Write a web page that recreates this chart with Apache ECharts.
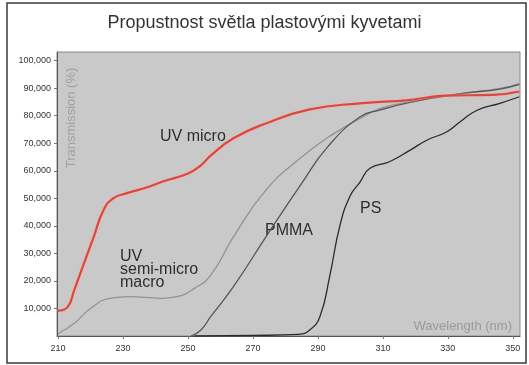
<!DOCTYPE html>
<html>
<head>
<meta charset="utf-8">
<script src="https://cdn.jsdelivr.net/npm/echarts@6/dist/echarts.min.js"></script>
<style>
  html, body { margin: 0; padding: 0; background: #ffffff; }
  #chart { width: 529px; height: 365px; }
</style>
</head>
<body>
<div id="chart"></div>
<script>
// Axis ticks
const xTicks = [210, 230, 250, 270, 290, 310, 330, 350];
const yTicks = [10, 20, 30, 40, 50, 60, 70, 80, 90, 100];

// Transmission curves: wavelength (nm) and transmission (%)
const uvMicroNm = [210, 213, 215, 218, 221, 224, 227, 231, 238, 242, 250, 254, 257, 264, 274, 287.5, 303, 318, 329, 344, 352];
const uvMicroT  = [9.2, 10.6, 16.7, 26.4, 36.0, 45.7, 50.0, 51.8, 54.2, 56.0, 59.0, 62.0, 65.5, 71.8, 77.2, 82.3, 84.5, 85.7, 87.3, 87.6, 88.8];

const semiNm = [210, 215, 220, 226, 232, 241.5, 246.5, 252, 257, 264, 274, 285, 295, 303, 309, 318, 334, 346, 352];
const semiT  = [0.8, 4.6, 10.0, 13.7, 14.3, 13.7, 14.3, 17.3, 22.1, 36.0, 53.0, 65.0, 73.6, 79.0, 82.6, 85.0, 88.0, 89.9, 91.7];

const pmmaNm = [251, 254, 257, 264, 274, 285, 293, 303, 309, 318, 334, 346, 352];
const pmmaT  = [0, 2.2, 7.0, 17.9, 36.0, 55.4, 68.7, 79.6, 82.0, 84.8, 88.0, 89.7, 91.4];

const psNm = [252, 270, 284, 287.5, 290.6, 293.6, 296.7, 299.8, 303, 306, 312, 318.4, 323.5, 329.7, 333.8, 339, 346, 352];
const psT  = [0, 0.2, 0.6, 2.2, 7.0, 21.5, 39.7, 50.6, 56.0, 60.9, 63.3, 67.5, 71.1, 74.2, 77.8, 82.0, 84.5, 86.9];

const pairs = (xs, ys) => xs.map((x, i) => [x, ys[i]]);

function lineSeries(name, xs, ys, lineStyle) {
  return {
    name: name,
    type: 'line',
    data: pairs(xs, ys),
    smooth: 0.5,
    showSymbol: false,
    silent: true,
    clip: true,
    lineStyle: lineStyle
  };
}

const chart = echarts.init(document.getElementById('chart'), null, { renderer: 'canvas' });

const labelFont = { fontFamily: 'Liberation Sans, Arial, sans-serif', fontSize: 16, fill: '#2e2e2e' };

chart.setOption({
  animation: false,
  backgroundColor: '#ffffff',
  title: {
    text: 'Propustnost světla plastovými kyvetami',
    left: 'center',
    top: 9,
    textStyle: { fontFamily: 'Liberation Sans, Arial, sans-serif', fontSize: 18, fontWeight: 'normal', color: '#333333' }
  },
  grid: {
    left: 57, right: 9, top: 52, bottom: 29,
    show: true, backgroundColor: '#c9c9c9', borderColor: '#8a8a8a', borderWidth: 1
  },
  xAxis: {
    type: 'value',
    min: 209.7, max: 352.2,
    axisLine: { lineStyle: { color: '#555555', width: 1 } },
    axisTick: { customValues: xTicks, length: 3, lineStyle: { color: '#777777' } },
    axisLabel: {
      customValues: xTicks, margin: 8,
      fontFamily: 'Liberation Sans, Arial, sans-serif', fontSize: 9, color: '#333333'
    },
    splitLine: { show: false }
  },
  yAxis: {
    type: 'value',
    min: 0, max: 103.15,
    axisLine: { show: true, lineStyle: { color: '#555555', width: 1 } },
    axisTick: { show: true, customValues: yTicks, length: 3, lineStyle: { color: '#777777' } },
    axisLabel: {
      customValues: yTicks, margin: 6,
      fontFamily: 'Liberation Sans, Arial, sans-serif', fontSize: 9, color: '#333333',
      formatter: v => v.toFixed(3).replace('.', ',')
    },
    splitLine: { show: false }
  },
  series: [
    lineSeries('UV semi-micro macro', semiNm, semiT, { color: '#929292', width: 1.3 }),
    lineSeries('PMMA', pmmaNm, pmmaT, { color: '#555555', width: 1.3 }),
    lineSeries('PS', psNm, psT, { color: '#2a2a2a', width: 1.3 }),
    lineSeries('UV micro', uvMicroNm, uvMicroT, {
      color: '#d9493d', width: 2.2, shadowColor: 'rgba(255,175,175,0.9)', shadowBlur: 3
    })
  ],
  graphic: [
    { type: 'rect', shape: { x: 7, y: 3, width: 519, height: 360 }, style: { fill: 'none', stroke: '#3a3a3a', lineWidth: 1.5 }, silent: true },
    { type: 'text', x: 160, y: 137, style: Object.assign({ text: 'UV micro', verticalAlign: 'middle' }, labelFont) },
    { type: 'text', x: 120, y: 250, style: Object.assign({ text: 'UV\nsemi-micro\nmacro', lineHeight: 13, verticalAlign: 'top' }, labelFont) },
    { type: 'text', x: 265, y: 231, style: Object.assign({ text: 'PMMA', verticalAlign: 'middle' }, labelFont) },
    { type: 'text', x: 360, y: 209, style: Object.assign({ text: 'PS', verticalAlign: 'middle' }, labelFont) },
    {
      type: 'text', x: 71, y: 118, rotation: Math.PI / 2,
      style: {
        text: 'Transmission (%)', align: 'center', verticalAlign: 'middle',
        fontFamily: 'Liberation Sans, Arial, sans-serif', fontSize: 13, fill: '#a2a2a2',
        textShadowColor: '#e6e6e6', textShadowOffsetX: 1, textShadowOffsetY: 1
      }
    },
    {
      type: 'text', x: 512, y: 326,
      style: {
        text: 'Wavelength (nm)', align: 'right', verticalAlign: 'middle',
        fontFamily: 'Liberation Sans, Arial, sans-serif', fontSize: 13, fill: '#9a9a9a',
        textShadowColor: '#e6e6e6', textShadowOffsetX: 1, textShadowOffsetY: 1
      }
    }
  ]
});
</script>
</body>
</html>
